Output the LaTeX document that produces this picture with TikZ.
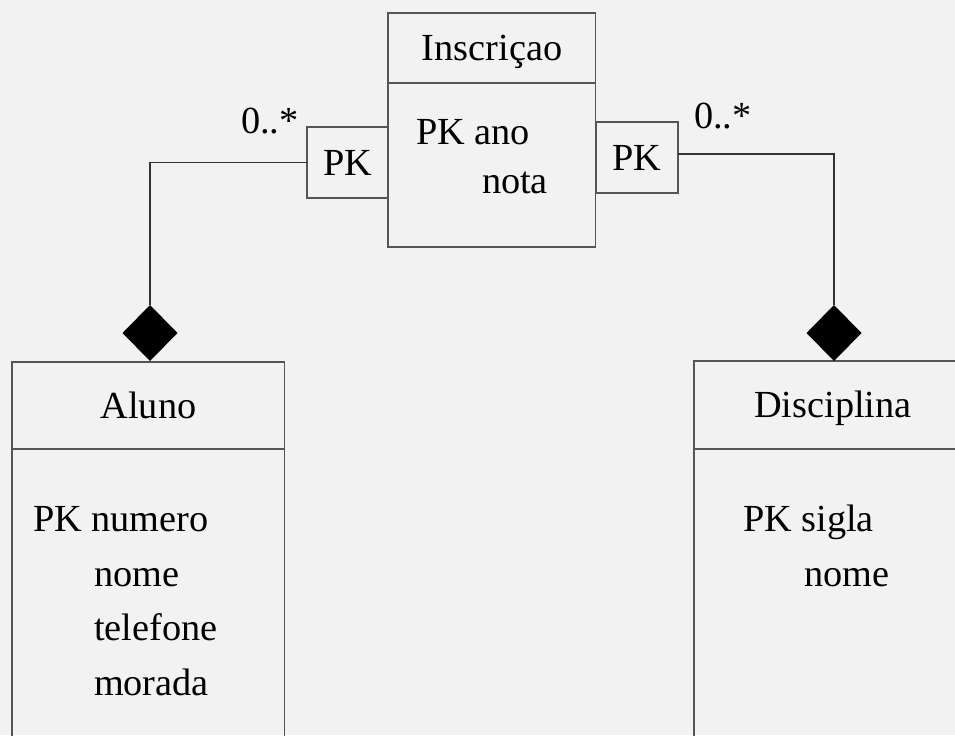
\documentclass[tikz,border=0pt]{standalone}
\usepackage{fontspec}
\setmainfont{Liberation Serif}
\usetikzlibrary{shapes.geometric}
\definecolor{bgcol}{HTML}{F2F2F2}
\definecolor{linecol}{HTML}{555555}

\begin{document}
\begin{tikzpicture}[
                    x=0.02cm,
                    y=-0.02cm,
                    font=\fontsize{21.8}{26}\selectfont,
                    every node/.style={inner sep=0pt, outer sep=0pt},
                    classbox/.style={draw=linecol, line width=0.6pt, anchor=north west, text height=0.5cm, text depth=0pt},
                    pkbox/.style={classbox, minimum width=1.62cm, minimum height=1.42cm},
                    attr/.style={anchor=base west},
                    agg/.style={diamond, fill=black, minimum width=1.1cm, minimum height=1.12cm},
                    link/.style={draw=black!80, line width=0.6pt}
                ]
                \clip (0,0) rectangle (955,735);
                \fill[bgcol] (0,0) rectangle (955,735);

                % Inscricao
                \node (inscHead) [classbox, minimum width=4.16cm, minimum height=1.4cm] at (388,13) {Inscriçao} ;
                \node (inscBody) [classbox, minimum width=4.16cm, minimum height=3.28cm] at (388,83) {} ;
                \node (inscA1) [attr] at (416,144) {PK ano} ;
                \node (inscA2) [attr] at (482,193) {nota} ;
                \node (pkL) [pkbox] at (307,127) {PK} ;
                \node (pkR) [pkbox, minimum width=1.64cm] at (596,122) {PK} ;
                \node (multL) [attr] at (241,133) {0..*} ;
                \node (multR) [attr] at (694,128) {0..*} ;

                % Aluno
                \node (alunoHead) [classbox, minimum width=5.46cm, minimum height=1.74cm] at (12,362) {Aluno} ;
                \node (alunoBody) [classbox, minimum width=5.46cm, minimum height=8cm] at (12,449) {} ;
                \node (alunoA1) [attr] at (33,531) {PK numero} ;
                \node (alunoA2) [attr] at (94,586) {nome} ;
                \node (alunoA3) [attr] at (94,640) {telefone} ;
                \node (alunoA4) [attr] at (94,695) {morada} ;
                \node (alunoDia) [agg] at (150,333) {} ;

                % Disciplina
                \node (discHead) [classbox, minimum width=5.56cm, minimum height=1.76cm] at (694,361) {Disciplina} ;
                \node (discBody) [classbox, minimum width=5.56cm, minimum height=8cm] at (694,449) {} ;
                \node (discA1) [attr] at (743,531) {PK sigla} ;
                \node (discA2) [attr] at (804,586) {nome} ;
                \node (discDia) [agg] at (834,333) {} ;

                \draw[link] (alunoDia.north) |- (pkL.west) ;
                \draw[link] ([yshift=0.07cm]pkR.east) -| (discDia.north) ;
            \end{tikzpicture}
\end{document}
